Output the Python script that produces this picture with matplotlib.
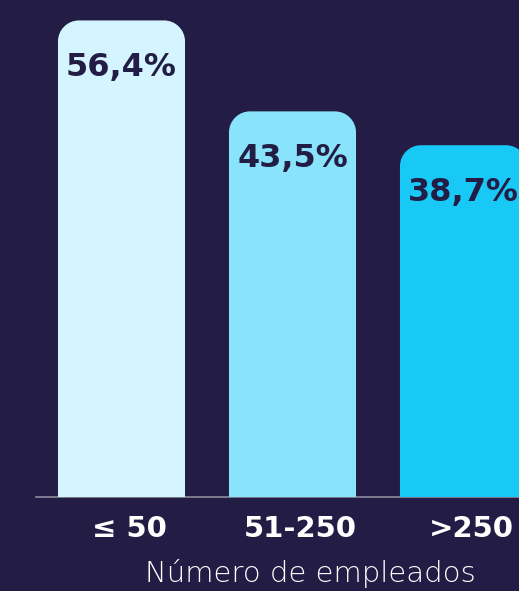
import matplotlib
matplotlib.use("Agg")
import matplotlib.pyplot as plt
from matplotlib.path import Path
from matplotlib.patches import PathPatch
from matplotlib.transforms import ScaledTranslation

categories = ["≤ 50", "51-250", ">250"]
values = [56.4, 43.5, 38.7]
value_labels = ["56,4%", "43,5%", "38,7%"]
xlabel = "Número de empleados"

bg = "#231d45"
bar_colors = ["#d4f4ff", "#88e3fb", "#18c9f5"]

W, H = 519, 591
fig = plt.figure(figsize=(W / 100, H / 100), dpi=100, facecolor=bg)
ax = fig.add_axes([0, 94 / H, 1, 497 / H])
ax.set_facecolor(bg)

base = -11.2
ax.set_xlim(-0.7105, 2.3246)
ax.set_ylim(base, 59.3)

width = 0.743
bars = ax.bar(range(len(values)), [v - base for v in values], bottom=base,
              width=width, color=bar_colors)

# replace rectangles by rounded-top shapes
px_x = W / (ax.get_xlim()[1] - ax.get_xlim()[0])
px_y = 497 / (ax.get_ylim()[1] - ax.get_ylim()[0])
r = 21
rx, ry = r / px_x, r / px_y
k = 0.5523
for b in bars:
    x0, y0 = b.get_x(), b.get_y()
    x1, y1 = x0 + b.get_width(), y0 + b.get_height()
    verts = [
        (x0, y0), (x0, y1 - ry),
        (x0, y1 - ry + k * ry), (x0 + rx - k * rx, y1), (x0 + rx, y1),
        (x1 - rx, y1),
        (x1 - rx + k * rx, y1), (x1, y1 - ry + k * ry), (x1, y1 - ry),
        (x1, y0), (x0, y0),
    ]
    codes = [Path.MOVETO, Path.LINETO,
             Path.CURVE4, Path.CURVE4, Path.CURVE4,
             Path.LINETO,
             Path.CURVE4, Path.CURVE4, Path.CURVE4,
             Path.LINETO, Path.CLOSEPOLY]
    patch = PathPatch(Path(verts, codes), facecolor=b.get_facecolor(),
                      edgecolor="none", zorder=2)
    ax.add_patch(patch)
    b.set_visible(False)

for i, (v, lab) in enumerate(zip(values, value_labels)):
    ax.text(i, v - 47 / px_y, lab, ha="center", va="center", color=bg,
            fontsize=23, fontweight="bold", family="DejaVu Sans", zorder=3)

ax.plot([-0.5, 2.5], [base, base], color="#8c8a9c", lw=1.2, clip_on=False, zorder=1)

for s in ax.spines.values():
    s.set_visible(False)
ax.set_yticks([])
ax.set_xticks(range(len(categories)))
ax.set_xticklabels(categories, color="white", fontsize=21, fontweight="bold")
ax.tick_params(axis="x", length=0, pad=13)
offset = ScaledTranslation(8 / 100, 0, fig.dpi_scale_trans)
for t in ax.get_xticklabels():
    t.set_transform(t.get_transform() + offset)
ax.set_xlabel(xlabel, color="white", fontsize=21, fontweight="light")
ax.xaxis.set_label_coords(310 / W, -62 / 497)

fig.savefig("out.png", dpi=100, facecolor=bg)
